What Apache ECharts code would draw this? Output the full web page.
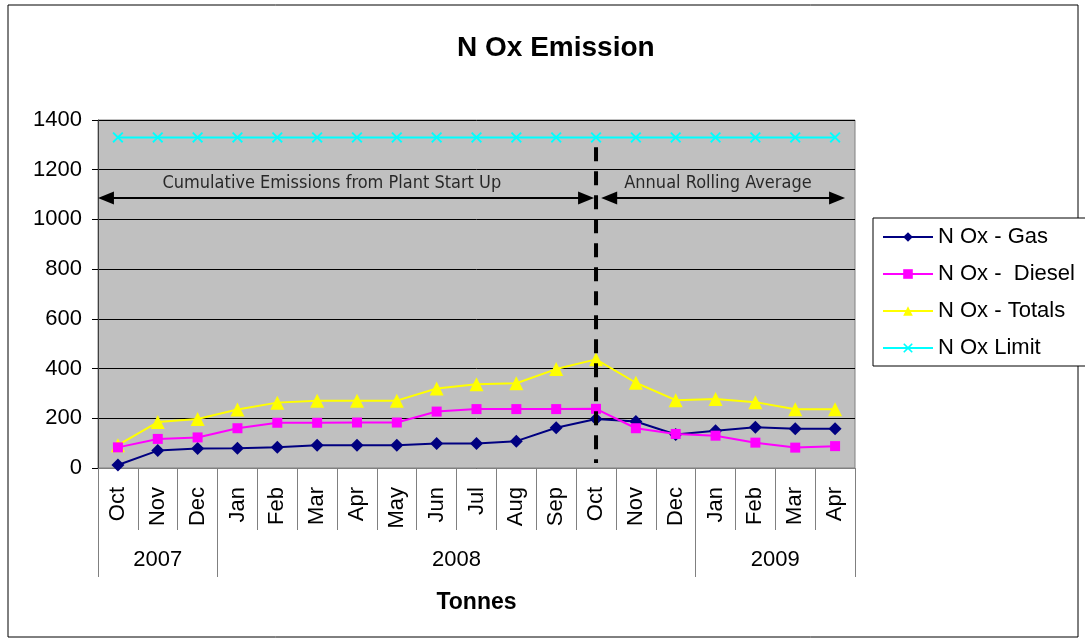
<!DOCTYPE html>
<html>
<head>
<meta charset="utf-8">
<script src="https://cdn.jsdelivr.net/npm/echarts@6/dist/echarts.min.js"></script>
<style>
html,body{margin:0;padding:0;background:#fff;}
#chart{width:1085px;height:640px;}
</style>
</head>
<body>
<div id="chart"></div>
<script>
// ---- data ----
const months = ['Oct','Nov','Dec','Jan','Feb','Mar','Apr','May','Jun','Jul','Aug','Sep','Oct','Nov','Dec','Jan','Feb','Mar','Apr'];
const gas    = [12, 70, 78, 79, 83, 92, 92, 92, 99, 99, 108, 162, 197, 187, 135, 150, 164, 158, 158];
const diesel = [83, 117, 123, 160, 182, 182, 183, 183, 227, 237, 237, 237, 238, 160, 137, 130, 102, 82, 88];
const totals = [92, 185, 197, 235, 263, 271, 271, 271, 320, 337, 341, 398, 437, 343, 273, 278, 265, 236, 236];
const limit  = [1330,1330,1330,1330,1330,1330,1330,1330,1330,1330,1330,1330,1330,1330,1330,1330,1330,1330,1330];
const yearNames = ['2007','2008','2009'];
const yearBounds = [0, 3, 15, 19];        // category-index boundaries of year groups
const yearCenters = [1.5, 9, 17];
// annotations (in category-index / value units)
const dividerLine = [[12.5, 1290], [12.5, 20]];
const leftArrow  = [[0.2, 1086], [12.25, 1086]];
const rightArrow = [[12.83, 1086], [18.55, 1086]];
const notes = [[5.87, 1146, 'Cumulative Emissions from Plant Start Up'], [15.56, 1146, 'Annual Rolling Average']];

const FONT = 'Liberation Sans, Arial, sans-serif';
const NARROW = 'Liberation Sans Narrow, Arial Narrow, DejaVu Sans Condensed, sans-serif';
const xPath = 'path://M0,1.2L1.2,0L5,3.8L8.8,0L10,1.2L6.2,5L10,8.8L8.8,10L5,6.2L1.2,10L0,8.8L3.8,5Z';

const chart = echarts.init(document.getElementById('chart'), null, {renderer:'canvas'});
chart.setOption({
  backgroundColor: '#ffffff',
  animation: false,
  title: {
    text: 'N Ox Emission', left: 452, top: 29,
    textStyle: {fontFamily: FONT, fontSize: 28, fontWeight: 'bold', color: '#000'}
  },
  graphic: [
    {type:'rect', shape:{x:8, y:5, width:1070, height:632}, style:{fill:'none', stroke:'#000', lineWidth:1}, silent:true, z:-10}
  ],
  legend: {
    orient: 'vertical', left: 873, top: 218,
    data: ['N Ox - Gas', 'N Ox -  Diesel', 'N Ox - Totals', 'N Ox Limit'],
    itemWidth: 50, itemHeight: 12, itemGap: 15,
    padding: [8, 12, 7, 9],
    borderColor: '#000', borderWidth: 1, backgroundColor: '#fff',
    textStyle: {fontFamily: FONT, fontSize: 22, color: '#000'}
  },
  grid: {left: 98, right: 230, top: 120, bottom: 172, show: true, backgroundColor: '#c0c0c0', borderColor: '#808080', borderWidth: 1},
  xAxis: [
    {
      type: 'category', data: months, boundaryGap: true, position: 'bottom',
      axisLine: {show: true, lineStyle: {color: '#808080', width: 1}},
      axisTick: {show: true, interval: 0, length: 62, lineStyle: {color: '#808080'}},
      axisLabel: {interval: 0, rotate: 90, margin: 19, fontFamily: FONT, fontSize: 22, color: '#000'},
      splitLine: {show: false}
    },
    {
      type: 'value', min: 0, max: 19, position: 'bottom',
      axisLine: {show: false},
      axisTick: {show: true, customValues: yearBounds, length: 109, lineStyle: {color: '#808080'}},
      axisLabel: {customValues: yearCenters, margin: 81, fontFamily: FONT, fontSize: 22, color: '#000',
        formatter: function(v){ const i = yearCenters.indexOf(v); return i >= 0 ? yearNames[i] : ''; }},
      splitLine: {show: false},
      name: 'Tonnes', nameLocation: 'middle', nameGap: 123,
      nameTextStyle: {fontFamily: FONT, fontSize: 23, fontWeight: 'bold', color: '#000'}
    }
  ],
  yAxis: {
    type: 'value', min: 0, max: 1400, interval: 200,
    axisLine: {show: true, lineStyle: {color: '#404040', width: 1}},
    axisTick: {show: true, length: 6, lineStyle: {color: '#000'}},
    axisLabel: {margin: 16, fontFamily: FONT, fontSize: 22, color: '#000', formatter: function(v){ return String(v); }},
    splitLine: {show: true, lineStyle: {color: '#000', width: 1}}
  },
  series: [
    {name: 'N Ox - Gas', type: 'line', data: gas, symbol: 'diamond', symbolSize: 13,
      itemStyle: {color: '#000080'}, lineStyle: {color: '#000080', width: 2}, z: 4},
    {name: 'N Ox -  Diesel', type: 'line', data: diesel, symbol: 'rect', symbolSize: 10,
      itemStyle: {color: '#ff00ff'}, lineStyle: {color: '#ff00ff', width: 2}, z: 5},
    {name: 'N Ox - Totals', type: 'line', data: totals, symbol: 'triangle', symbolSize: 14,
      itemStyle: {color: '#ffff00'}, lineStyle: {color: '#ffff00', width: 2}, z: 3},
    {name: 'N Ox Limit', type: 'line', data: limit, symbol: xPath, symbolSize: 11,
      itemStyle: {color: '#00ffff'}, lineStyle: {color: '#00ffff', width: 2}, z: 3},
    {name: 'divider', type: 'line', xAxisIndex: 1, data: dividerLine, symbol: 'none', silent: true,
      lineStyle: {color: '#000', width: 4, type: [14, 10]}, z: 6,
      markLine: {
        silent: true, symbol: ['triangle', 'triangle'], symbolSize: [13, 16],
        label: {show: false},
        lineStyle: {color: '#000', width: 2, type: 'solid'},
        data: [
          [{coord: leftArrow[0]}, {coord: leftArrow[1]}],
          [{coord: rightArrow[0]}, {coord: rightArrow[1]}]
        ]
      }
    },
    {name: 'notes', type: 'scatter', xAxisIndex: 1, data: notes, symbolSize: 0, silent: true,
      label: {show: true, position: 'inside', formatter: function(p){ return p.data[2]; },
        fontFamily: NARROW, fontSize: 18, color: '#000'}}
  ]
});
</script>
</body>
</html>
